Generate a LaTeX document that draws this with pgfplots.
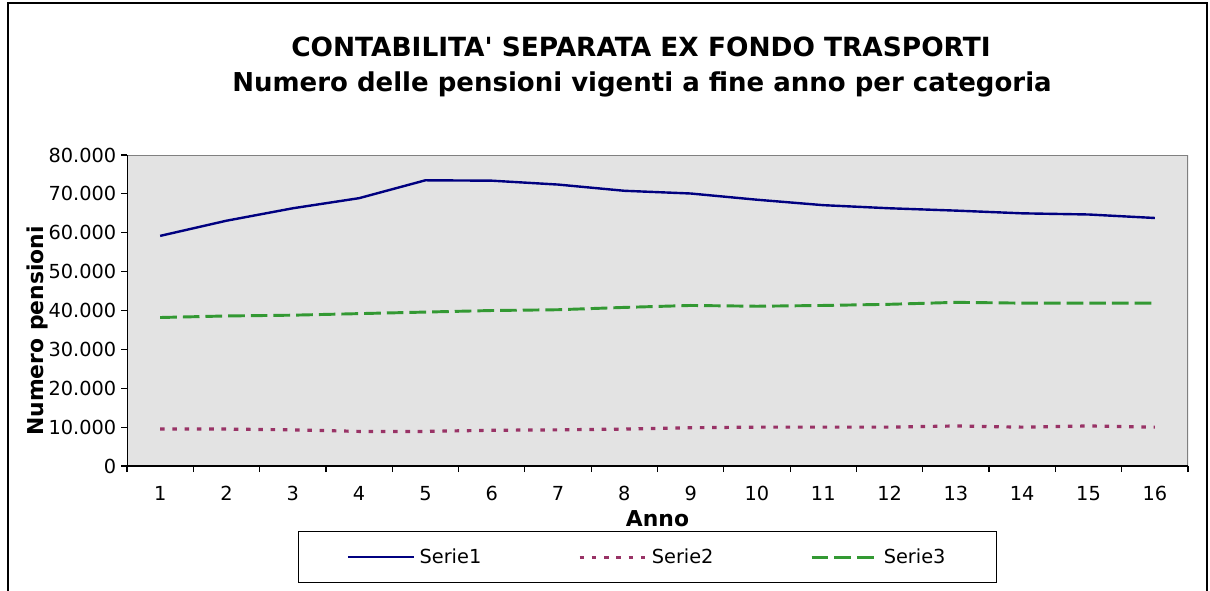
\documentclass[border=0pt]{standalone}
\usepackage{fontspec}
\setmainfont{DejaVu Sans}
\usepackage{pgfplots}
\pgfplotsset{compat=1.18}
\definecolor{serieA}{HTML}{000080}
\definecolor{serieB}{HTML}{993366}
\definecolor{serieC}{HTML}{339933}
\definecolor{plotbg}{HTML}{E3E3E3}
\definecolor{frame}{HTML}{808080}
% one pixel of the reference
\def\u{0.75pt}

\begin{document}
\begin{tikzpicture}
\useasboundingbox (0,0) rectangle (1210*\u,-590*\u);
\draw[line width=1.2pt] (8*\u,-3*\u) rectangle (1207*\u,-640*\u);
\node[font=\bfseries\fontsize{19.8}{23}\selectfont] at (641*\u,-47*\u)
  {CONTABILITA\textquotesingle\ SEPARATA EX FONDO TRASPORTI};
\node[font=\bfseries\fontsize{19.5}{23}\selectfont] at (642*\u,-84*\u)
  {Numero delle pensioni vigenti a fine anno per categoria};
\begin{axis}[
  at={(127*\u,-466*\u)},
  anchor=south west,
  scale only axis,
  width=795.75pt,
  height=233.25pt,
  xmin=0.5, xmax=16.5,
  ymin=0, ymax=80000,
  xtick={1,...,16},
  minor xtick={0.5,1.5,...,16.5},
  ytick={0,10000,...,80000},
  scaled y ticks=false,
  yticklabel style={/pgf/number format/.cd, fixed, 1000 sep={.}, assume math mode=true},
  xticklabel style={/pgf/number format/assume math mode=true, yshift=-7pt},
  tick label style={font=\fontsize{14.5}{16}\selectfont},
  tick pos=left,
  tick align=outside,
  major tick length=4.5pt,
  minor tick length=4.5pt,
  major x tick style={draw=none},
  every tick/.style={black, line width=0.9pt},
  axis line style={draw=none},
  axis background/.style={fill=plotbg},
  xlabel={Anno},
  ylabel={Numero pensioni},
  xlabel style={font=\bfseries\fontsize{16.4}{19}\selectfont,
    at={(axis description cs:0.5,0)}, anchor=center, yshift=-53*\u},
  ylabel style={font=\bfseries\fontsize{16.4}{19}\selectfont,
    at={(axis description cs:-0.0848,0.434)}, anchor=center},
  legend columns=3,
  legend style={
    at={(axis description cs:0.1612,-0.209)},
    anchor=north west,
    draw=black, line width=0.8pt,
    fill=white,
    inner xsep=36pt, inner ysep=11pt,
    font=\fontsize{14.5}{16}\selectfont,
    /tikz/every odd column/.append style={column sep=1.5pt},
    /tikz/every even column/.append style={column sep=70.5pt},
  },
  legend image code/.code={\draw[#1] (0pt,0pt) -- (49.5pt,0pt);},
]
  \addplot[serieA, line width=1.8pt, line join=round] coordinates {
    (1, 59200) (2, 63100) (3, 66300) (4, 68900) (5, 73500) (6, 73400)
    (7, 72400) (8, 70800) (9, 70100) (10, 68500) (11, 67100) (12, 66300)
    (13, 65700) (14, 65000) (15, 64700) (16, 63800)
  };
  \addlegendentry{Serie1}
  \addplot[serieB, line width=2.4pt, dash pattern=on 3.4pt off 5.8pt] coordinates {
    (1, 9500) (2, 9500) (3, 9300) (4, 8900) (5, 8900) (6, 9200)
    (7, 9300) (8, 9500) (9, 9850) (10, 10000) (11, 10000) (12, 10000)
    (13, 10300) (14, 10000) (15, 10300) (16, 10000)
  };
  \addlegendentry{Serie2}
  \addplot[serieC, line width=2.2pt, dash pattern=on 12.5pt off 4.5pt] coordinates {
    (1, 38200) (2, 38600) (3, 38800) (4, 39200) (5, 39600) (6, 40000)
    (7, 40200) (8, 40800) (9, 41300) (10, 41100) (11, 41300) (12, 41600)
    (13, 42100) (14, 41900) (15, 41900) (16, 41900)
  };
  \addlegendentry{Serie3}
  \draw[frame, line width=1.5pt] (rel axis cs:0,1) -- (rel axis cs:1,1) -- (rel axis cs:1,0);
  \draw[black, line width=1.5pt] (rel axis cs:0,1) -- (rel axis cs:0,0) -- (rel axis cs:1,0);
\end{axis}
\end{tikzpicture}
\end{document}
